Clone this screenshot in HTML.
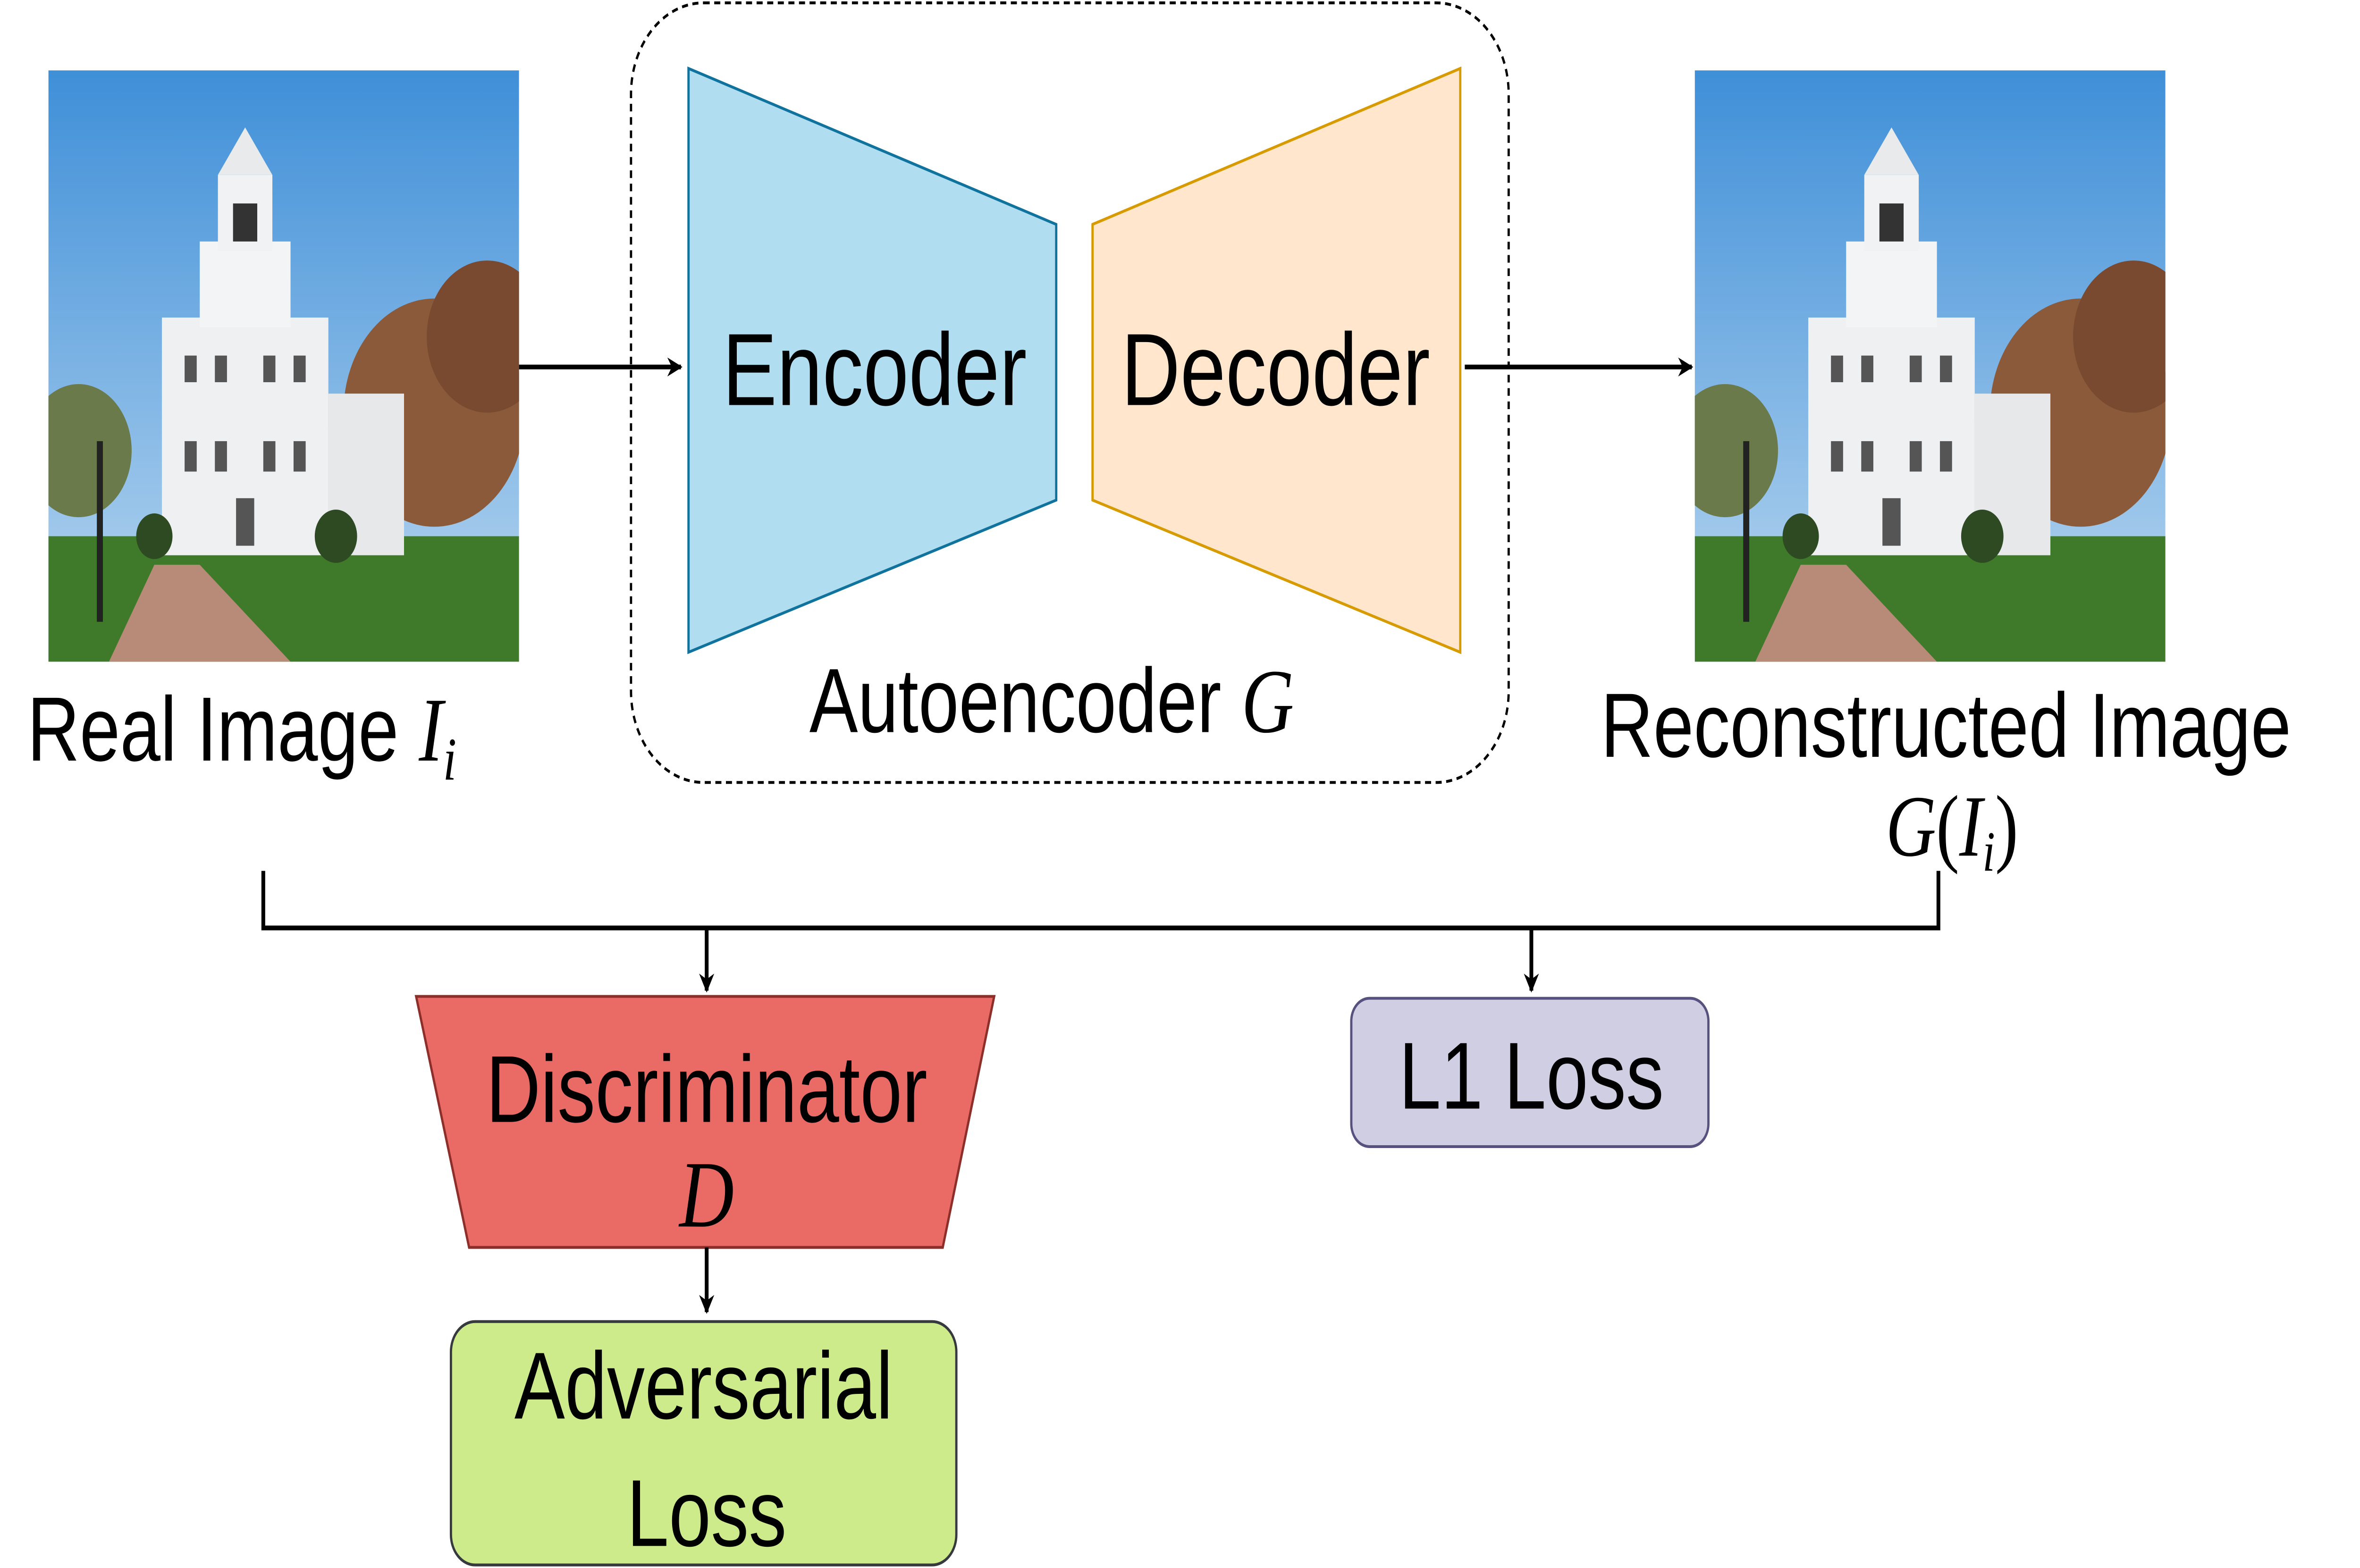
<!DOCTYPE html>
<html><head><meta charset="utf-8"><style>html,body{margin:0;padding:0;background:#fff;width:100%;height:100%;overflow:hidden}svg{display:block;width:100vw;height:100vh}</style></head>
<body>
<svg xmlns="http://www.w3.org/2000/svg" xmlns:xlink="http://www.w3.org/1999/xlink" viewBox="0 0 1559.6 824.6" preserveAspectRatio="none" font-family="'Liberation Sans', sans-serif">
<defs>
<linearGradient id="sky" x1="0" y1="0" x2="0" y2="1"><stop offset="0" stop-color="#3f8fd8"/><stop offset="1" stop-color="#b9d7f0"/></linearGradient>
<marker id="ah" viewBox="0 0 10 10" refX="9" refY="5" markerWidth="4" markerHeight="4" orient="auto"><path d="M0,0 L10,5 L0,10 L3,5 z" fill="#000"/></marker>
<clipPath id="cl"><rect x="0" y="0" width="311" height="311"/></clipPath>
<g id="scene" clip-path="url(#cl)">
<rect x="0" y="0" width="311" height="311" fill="url(#sky)"/>
<rect x="0" y="245" width="311" height="66" fill="#3f7a2a"/>
<path d="M40,311 L70,260 L100,260 L160,311 z" fill="#b88a78"/>
<circle cx="20" cy="200" r="35" fill="#6a7a4a"/>
<circle cx="255" cy="180" r="60" fill="#8a5a3a"/>
<circle cx="290" cy="140" r="40" fill="#7a4a30"/>
<rect x="75" y="130" width="110" height="125" fill="#eef0f2"/>
<rect x="100" y="90" width="60" height="45" fill="#f2f4f6"/>
<rect x="112" y="55" width="36" height="40" fill="#f0f2f4"/>
<path d="M112,55 L130,30 L148,55 z" fill="#e8eaec"/>
<rect x="122" y="70" width="16" height="20" fill="#333"/>
<rect x="185" y="170" width="50" height="85" fill="#e6e8ea"/>
<g fill="#555"><rect x="90" y="150" width="8" height="14"/><rect x="110" y="150" width="8" height="14"/><rect x="142" y="150" width="8" height="14"/><rect x="162" y="150" width="8" height="14"/><rect x="90" y="195" width="8" height="16"/><rect x="110" y="195" width="8" height="16"/><rect x="142" y="195" width="8" height="16"/><rect x="162" y="195" width="8" height="16"/><rect x="124" y="225" width="12" height="25"/></g>
<circle cx="70" cy="245" r="12" fill="#2d4a22"/><circle cx="190" cy="245" r="14" fill="#2d4a22"/>
<rect x="32" y="195" width="4" height="95" fill="#222"/>
</g>
</defs>

<use xlink:href="#scene" x="32" y="37"/>
<use xlink:href="#scene" x="1120" y="37"/>

<rect x="417" y="1.5" width="580" height="410" rx="48" ry="48" fill="none" stroke="#000" stroke-width="1.5" stroke-dasharray="4,3"/>

<polygon points="455,36 698,118 698,263 455,343" fill="#b1ddf0" stroke="#10739e" stroke-width="1.5"/>
<polygon points="722,118 965,36 965,343 722,263" fill="#ffe6cc" stroke="#d79b00" stroke-width="1.5"/>
<text x="578" y="213" font-size="54" text-anchor="middle">Encoder</text>
<text x="843" y="213" font-size="54" text-anchor="middle">Decoder</text>
<text x="695" y="385" font-size="48" text-anchor="middle">Autoencoder <tspan font-family="'Liberation Serif', serif" font-style="italic">G</tspan></text>

<line x1="343" y1="193" x2="450" y2="193" stroke="#000" stroke-width="2.5" marker-end="url(#ah)"/>
<line x1="968" y1="193" x2="1118" y2="193" stroke="#000" stroke-width="2.5" marker-end="url(#ah)"/>

<text x="18" y="400" font-size="48">Real Image <tspan font-family="'Liberation Serif', serif" font-style="italic">I</tspan><tspan font-family="'Liberation Serif', serif" font-style="italic" font-size="32" dy="10">i</tspan></text>
<text x="1286" y="398" font-size="48" text-anchor="middle">Reconstructed Image</text>
<text x="1290" y="450" font-size="46" text-anchor="middle" font-family="'Liberation Serif', serif"><tspan font-style="italic">G</tspan>(<tspan font-style="italic">I</tspan><tspan font-style="italic" font-size="30" dy="8">i</tspan><tspan dy="-8">)</tspan></text>

<polyline points="174,458 174,488 1281,488 1281,458" fill="none" stroke="#000" stroke-width="2.5"/>
<line x1="467" y1="488" x2="467" y2="521" stroke="#000" stroke-width="2.5" marker-end="url(#ah)"/>
<line x1="1012" y1="488" x2="1012" y2="521" stroke="#000" stroke-width="2.5" marker-end="url(#ah)"/>

<polygon points="275,524 657,524 623,656 310,656" fill="#ea6b66" stroke="#8c2e2a" stroke-width="1.5"/>
<text x="467" y="590" font-size="50" text-anchor="middle">Discriminator</text>
<text x="467" y="645" font-size="50" text-anchor="middle" font-family="'Liberation Serif', serif" font-style="italic">D</text>
<line x1="467" y1="656" x2="467" y2="690" stroke="#000" stroke-width="2.5" marker-end="url(#ah)"/>

<rect x="298" y="695" width="334" height="128" rx="16" fill="#cdeb8b" stroke="#36393d" stroke-width="1.5"/>
<text x="465" y="746" font-size="50" text-anchor="middle">Adversarial</text>
<text x="467" y="813" font-size="50" text-anchor="middle">Loss</text>

<rect x="893" y="525" width="236" height="78" rx="12" fill="#d0cee2" stroke="#56517e" stroke-width="1.5"/>
<text x="1012" y="583" font-size="50" text-anchor="middle">L1 Loss</text>
</svg>
</body></html>
